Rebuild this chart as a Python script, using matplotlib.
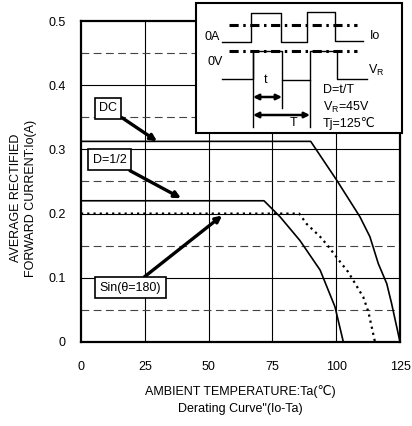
import matplotlib
matplotlib.use("Agg")
import matplotlib.pyplot as plt
from matplotlib.patches import Rectangle

plt.rcParams['font.family'] = ['Liberation Sans', 'DejaVu Sans']
plt.rcParams['mathtext.default'] = 'regular'

# Derating curves (Ta in degC, Io in A)
dc_ta = [0, 90, 100.2, 109.3, 113.2, 116.5, 119.8, 121.7, 125]
dc_io = [0.3125, 0.3125, 0.252, 0.195, 0.164, 0.122, 0.091, 0.06, 0]
half_ta = [0, 71.7, 78, 85.8, 93.7, 99.5, 102.8]
half_io = [0.22, 0.22, 0.195, 0.158, 0.112, 0.055, 0]
sin_ta = [0, 85.5, 88.4, 93.7, 96.9, 101.5, 104.7, 110.6, 112.6, 115.2]
sin_io = [0.2, 0.2, 0.184, 0.164, 0.149, 0.125, 0.109, 0.07, 0.047, 0]

x_ticks = [0, 25, 50, 75, 100, 125]
y_ticks = [0, 0.1, 0.2, 0.3, 0.4, 0.5]
y_ticklabels = ['0', '0.1', '0.2', '0.3', '0.4', '0.5']

# Waveform sketch of the inset (pixel coords of the figure)
io_wave_x = [222, 251, 251, 281, 281, 307, 307, 335, 335, 363]
io_wave_y = [42, 42, 13, 13, 42, 42, 12, 12, 41, 41]
vr_wave_x = [222, 253, 253, 282, 282, 310, 310, 337, 337, 367]
vr_wave_y = [79, 79, 51, 51, 80, 80, 51, 51, 79, 79]

FS = 9

fig = plt.figure(figsize=(4.12, 4.26), dpi=100)
ax = fig.add_axes([0.1966, 0.1972, 0.7743, 0.7535])

ax.set_xlim(0, 125)
ax.set_ylim(0, 0.5)

# grille
for x in x_ticks[1:-1]:
    ax.axvline(x, color='black', lw=0.8, zorder=1)
for y in y_ticks[1:-1]:
    ax.axhline(y, color='black', lw=0.8, zorder=1)
for y in [0.05, 0.15, 0.25, 0.35, 0.45]:
    ax.axhline(y, color='#444444', lw=0.8, ls=(0, (7, 4)), zorder=1)

ax.plot(dc_ta, dc_io, color='black', lw=1.2, zorder=3)
ax.plot(half_ta, half_io, color='black', lw=1.2, zorder=3)
ax.plot(sin_ta, sin_io, color='black', lw=1.6, ls=(0, (1, 1.8)), zorder=3)

ax.set_xticks(x_ticks)
ax.set_yticks(y_ticks)
ax.set_yticklabels(y_ticklabels)
ax.tick_params(length=0, labelsize=FS, pad=14)
ax.tick_params(axis='y', pad=11)
for s in ax.spines.values():
    s.set_linewidth(1.6)

ax.set_xlabel("AMBIENT TEMPERATURE:Ta(℃)\nDerating Curve\"(Io-Ta)", fontsize=FS,
              labelpad=8, linespacing=1.6)

fig.text(0.057, 0.535, "AVERAGE RECTIFIED\nFORWARD CURRENT:Io(A)", rotation=90,
         ha='center', va='center', fontsize=FS, linespacing=1.3)

box = dict(boxstyle='square,pad=0.35', fc='white', ec='black', lw=1.2)
arrow = dict(arrowstyle='-|>', lw=2.4, color='black', mutation_scale=9,
             shrinkA=0, shrinkB=0)
ax.annotate('DC', xy=(29.8, 0.3126), xytext=(10.6, 0.364), fontsize=FS,
            ha='center', va='center', bbox=box, arrowprops=arrow, zorder=5)
ax.annotate('D=1/2', xy=(39.2, 0.224), xytext=(11.2, 0.284), fontsize=FS,
            ha='center', va='center', bbox=box, arrowprops=arrow, zorder=5)
ax.annotate('Sin(θ=180)', xy=(55.3, 0.197), xytext=(19.4, 0.0844), fontsize=FS,
            ha='center', va='center', bbox=box, arrowprops=arrow, zorder=5)

# encart
ins = fig.add_axes([0, 0, 1, 1])
ins.set_xlim(0, 412)
ins.set_ylim(426, 0)
ins.axis('off')
ins.add_patch(Rectangle((196, 3), 206, 130, fc='white', ec='black', lw=1.5))

ins.plot(io_wave_x, io_wave_y, color='black', lw=1.0)
ins.plot(vr_wave_x, vr_wave_y, color='black', lw=1.0)
ins.plot([229, 357], [25, 25], color='black', lw=2.2, ls=(0, (3, 1.5, 0.8, 1.5)))
ins.plot([229, 357], [51, 51], color='black', lw=2.2, ls=(0, (3, 1.5, 0.8, 1.5)))
ins.plot([253, 253], [51, 127], color='black', lw=1.0)
ins.plot([282, 282], [80, 108], color='black', lw=1.0)
ins.plot([310, 310], [80, 127], color='black', lw=1.0)

darrow = dict(arrowstyle='<|-|>', lw=1.8, color='black', mutation_scale=8,
              shrinkA=0, shrinkB=0)
ins.annotate('', xy=(282, 97), xytext=(253, 97), arrowprops=darrow)
ins.annotate('', xy=(310, 115), xytext=(253, 115), arrowprops=darrow)

ins.text(220, 43, '0A', fontsize=FS, ha='right', va='bottom')
ins.text(215, 62, '0V', fontsize=FS, ha='center', va='center')
ins.text(370, 36, 'Io', fontsize=FS, ha='left', va='center')
ins.text(368, 70, r'V$_{R}$', fontsize=FS, ha='left', va='center')
ins.text(266, 80, 't', fontsize=FS, ha='center', va='center')
ins.text(294, 123, 'T', fontsize=FS, ha='center', va='center')
ins.text(323, 90, 'D=t/T', fontsize=FS, ha='left', va='center')
ins.text(323, 107, r'V$_{R}$=45V', fontsize=FS, ha='left', va='center')
ins.text(323, 123, 'Tj=125℃', fontsize=FS, ha='left', va='center')

fig.savefig('out.png', dpi=100)
